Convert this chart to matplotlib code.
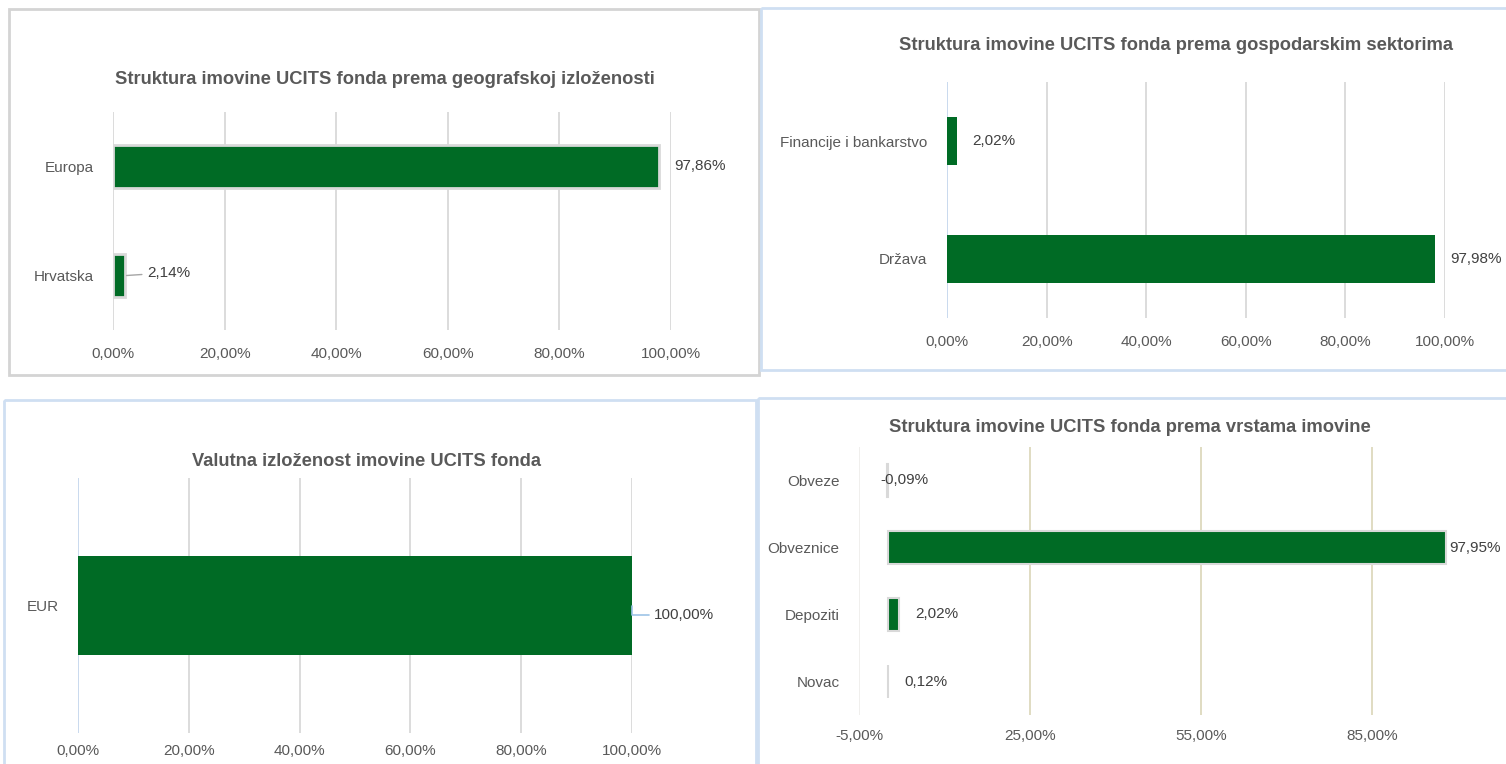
import matplotlib
matplotlib.use('Agg')
import matplotlib.pyplot as plt
import matplotlib.patches as mpatches

# data
geo_labels = ['Europa', 'Hrvatska']
geo_values = [97.86, 2.14]

sector_labels = ['Financije i bankarstvo', 'Država']
sector_values = [2.02, 97.98]

currency_labels = ['EUR']
currency_values = [100.00]

asset_labels = ['Obveze', 'Obveznice', 'Depoziti', 'Novac']
asset_values = [-0.09, 97.95, 2.02, 0.12]

GREEN = '#006B25'
TEXT = '#595959'
GRID = '#d9d9d9'
FS = 11
W, H = 1506, 764

plt.rcParams['font.family'] = ['Liberation Sans Narrow', 'Liberation Sans', 'DejaVu Sans']

fig = plt.figure(figsize=(W / 100, H / 100), dpi=100)
fig.patch.set_facecolor('white')

# panel frames
bg = fig.add_axes([0, 0, 1, 1])
bg.set_xlim(0, W)
bg.set_ylim(H, 0)
bg.axis('off')
frames = [((9, 9), 750, 366, '#d4d4d4'),
          ((761, 8), 750, 362, '#cfdff2'),
          ((4, 400), 752, 370, '#cfdff2'),
          ((758, 398), 752, 370, '#cfdff2')]
for (x, y), w, h, c in frames:
    bg.add_patch(mpatches.Rectangle((x, y), w, h, fill=False, edgecolor=c, linewidth=2))


def px_axes(left, top, right, bottom):
    return fig.add_axes([left / W, 1 - bottom / H, (right - left) / W, (bottom - top) / H])


def fmt(v):
    return f'{v:.2f}%'.replace('.', ',')


def style(ax, ticks, grid_color, zero_color, title, title_y):
    ax.set_xticks(ticks)
    ax.set_xticklabels([fmt(t) for t in ticks])
    ax.grid(axis='x', color=grid_color, linewidth=1.3)
    ax.set_axisbelow(True)
    for s in ax.spines.values():
        s.set_visible(False)
    ax.tick_params(length=0, labelsize=FS, colors=TEXT)
    ax.tick_params(axis='y', pad=14)
    ax.tick_params(axis='x', pad=12)
    if zero_color:
        ax.axvline(0, color=zero_color, linewidth=1.3, zorder=1)
    fig.text(title[1], 1 - title_y / H, title[0], ha='center', va='center',
             fontsize=13.2, fontweight='bold', color=TEXT)


def value_label(ax, v, y, dx_px, dy_px=0):
    ax.annotate(fmt(v), xy=(max(v, 0), y), xytext=(dx_px * 0.72, -dy_px * 0.72),
                textcoords='offset points', va='center', fontsize=FS, color='#404040')


# ---- panel 1: geography
ax1 = px_axes(113, 112, 671, 330)
ax1.barh(geo_labels, geo_values, height=0.4, color=GREEN, edgecolor='#d9d9d9', linewidth=2, zorder=3)
ax1.set_xlim(0, 100)
ax1.set_ylim(1.5, -0.5)
style(ax1, [0, 20, 40, 60, 80, 100], GRID, None,
      ('Struktura imovine UCITS fonda prema geografskoj izloženosti', 385 / W), 80)
value_label(ax1, geo_values[0], 0, 15)
ax1.annotate(fmt(geo_values[1]), xy=(geo_values[1] + 0.3, 1), xytext=(15, 2), textcoords='offset points',
             va='center', fontsize=FS, color='#404040',
             arrowprops=dict(arrowstyle='-', color='#a6a6a6', lw=1, shrinkA=2, shrinkB=0))

# ---- panel 2: sectors
ax2 = px_axes(947, 82, 1445, 318)
ax2.barh(sector_labels, sector_values, height=0.4, color=GREEN, zorder=3)
ax2.set_xlim(0, 100)
ax2.set_ylim(1.5, -0.5)
style(ax2, [0, 20, 40, 60, 80, 100], GRID, '#c9daf0',
      ('Struktura imovine UCITS fonda prema gospodarskim sektorima', 1176 / W), 45)
for i, v in enumerate(sector_values):
    value_label(ax2, v, i, 15)

# ---- panel 3: currency
ax3 = px_axes(78, 478, 632, 733)
ax3.barh(currency_labels, currency_values, height=0.39, color=GREEN, zorder=3)
ax3.set_xlim(0, 100)
ax3.set_ylim(0.5, -0.5)
style(ax3, [0, 20, 40, 60, 80, 100], GRID, '#c9daf0',
      ('Valutna izloženost imovine UCITS fonda', 367 / W), 462)
ax3.tick_params(axis='x', pad=8)
ax3.annotate(fmt(currency_values[0]), xy=(currency_values[0], 0.0), xytext=(16, -7),
             textcoords='offset points', va='center', fontsize=FS, color='#404040',
             arrowprops=dict(arrowstyle='-', color='#9dc3e6', lw=1.2, shrinkA=2, shrinkB=0,
                             connectionstyle='angle,angleA=0,angleB=90,rad=0'))

# ---- panel 4: asset types
ax4 = px_axes(859, 447, 1506, 715)
ax4.barh(asset_labels, asset_values, height=0.48, color=GREEN, edgecolor='#d9d9d9', linewidth=1.5, zorder=3)
ax4.set_xlim(-5, -5 + (1506 - 859) / 5.7)
ax4.set_ylim(3.5, -0.5)
style(ax4, [-5, 25, 55, 85], '#ddd9bd', None,
      ('Struktura imovine UCITS fonda prema vrstama imovine', 1130 / W), 428)
ax4.axvline(-5, color='#f2f2f2', linewidth=1.3, zorder=2)
ax4.tick_params(axis='x', pad=10)
for i, v in enumerate(asset_values):
    if v < 0:
        dx = -7
    elif v > 50:
        dx = 3
    else:
        dx = 16
    value_label(ax4, v, i, dx)

fig.savefig('out.png', dpi=100, facecolor='white')
